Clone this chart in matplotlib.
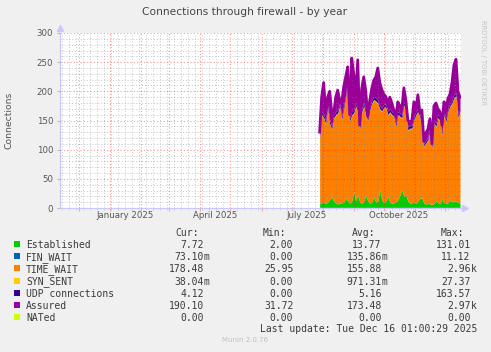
import matplotlib
matplotlib.use("Agg")
import matplotlib.pyplot as plt
import matplotlib.dates as mdates
from matplotlib.patches import Rectangle
import pandas as pd
import numpy as np

# samples every 2 days, end of July to mid December 2025
dates = pd.date_range("2025-07-29", "2025-12-16", freq="2D")

established = [8, 9, 10, 8, 10, 15, 19, 12, 8, 7,
               8, 9, 10, 17, 12, 8, 12, 28, 12, 22,
               10, 8, 12, 22, 12, 8, 10, 20, 10, 12,
               31, 14, 9, 12, 20, 10, 8, 9, 10, 14,
               22, 31, 20, 22, 12, 8, 9, 10, 8, 12,
               17, 17, 8, 7, 8, 7, 6, 8, 12, 9,
               7, 15, 10, 8, 9, 14, 10, 12, 12, 10,
               8]
fin_wait = [0.1, 0.1, 0.2, 0.1, 0.1, 0.2, 0.1, 0.1, 0.1, 0.2,
            0.1, 0.1, 0.1, 0.2, 0.1, 0.1, 0.1, 0.3, 0.1, 0.2,
            0.1, 0.1, 0.1, 0.2, 0.1, 0.1, 0.1, 0.2, 0.1, 0.1,
            0.3, 0.1, 0.1, 0.1, 0.2, 0.1, 0.1, 0.1, 0.1, 0.1,
            0.2, 0.3, 0.2, 0.2, 0.1, 0.1, 0.1, 0.1, 0.1, 0.1,
            0.2, 0.2, 0.1, 0.1, 0.1, 0.1, 0.1, 0.1, 0.1, 0.1,
            0.1, 0.2, 0.1, 0.1, 0.1, 0.1, 0.1, 0.1, 0.1, 0.1,
            0.1]
time_wait = [111, 150, 144, 136, 159, 129, 115, 142, 151, 155,
             166, 142, 159, 172, 204, 140, 147, 134, 162, 142,
             124, 156, 162, 137, 137, 160, 169, 165, 172, 167,
             138, 151, 163, 160, 139, 154, 151, 147, 129, 145,
             134, 123, 156, 143, 121, 128, 127, 141, 151, 153,
             137, 122, 97, 104, 108, 127, 96, 137, 127, 145,
             142, 110, 149, 139, 156, 160, 169, 176, 179, 144,
             157]
syn_sent = [1.0, 1.1, 0.9, 1.0, 1.2, 0.9, 1.0, 1.0, 0.8, 1.0,
            1.1, 1.0, 0.9, 1.2, 1.4, 1.0, 1.0, 0.9, 1.1, 1.0,
            0.8, 1.0, 1.1, 1.0, 0.9, 1.0, 1.1, 1.0, 1.2, 1.0,
            0.9, 1.0, 1.0, 1.1, 0.9, 1.0, 1.0, 0.9, 0.8, 1.0,
            0.9, 0.8, 1.0, 0.9, 0.8, 0.8, 0.9, 0.9, 1.0, 1.0,
            0.9, 0.8, 0.7, 0.7, 0.8, 0.9, 0.7, 0.9, 0.9, 1.0,
            0.9, 0.8, 1.0, 0.9, 1.0, 1.0, 1.1, 1.2, 1.2, 0.9,
            1.0]
udp = [5, 5, 6, 5, 5, 6, 5, 5, 5, 5,
       5, 5, 6, 5, 6, 5, 5, 5, 5, 6,
       5, 5, 5, 6, 5, 5, 5, 5, 6, 5,
       5, 5, 5, 5, 6, 5, 5, 5, 5, 5,
       6, 5, 5, 5, 5, 5, 5, 5, 5, 5,
       5, 5, 4, 4, 5, 5, 4, 5, 5, 5,
       5, 5, 5, 5, 5, 5, 5, 6, 6, 5,
       4]
assured = [130, 190, 215, 165, 190, 200, 165, 162, 190, 202,
           185, 180, 208, 225, 242, 160, 257, 230, 195, 254,
           142, 205, 225, 200, 157, 185, 205, 219, 225, 240,
           215, 203, 195, 191, 178, 190, 180, 168, 157, 182,
           175, 170, 206, 185, 150, 148, 150, 182, 170, 194,
           163, 168, 114, 129, 135, 153, 110, 175, 180, 170,
           165, 142, 182, 168, 188, 195, 215, 245, 255, 200,
           190]
nated = [0, 0, 0, 0, 0, 0, 0, 0, 0, 0,
         0, 0, 0, 0, 0, 0, 0, 0, 0, 0,
         0, 0, 0, 0, 0, 0, 0, 0, 0, 0,
         0, 0, 0, 0, 0, 0, 0, 0, 0, 0,
         0, 0, 0, 0, 0, 0, 0, 0, 0, 0,
         0, 0, 0, 0, 0, 0, 0, 0, 0, 0,
         0, 0, 0, 0, 0, 0, 0, 0, 0, 0,
         0]

names = ["Established", "FIN_WAIT", "TIME_WAIT", "SYN_SENT",
         "UDP connections", "Assured", "NATed"]
colors = ["#00cc00", "#0066b3", "#ff8000", "#ffcc00",
          "#330099", "#990099", "#ccff00"]
cur_vals = ["7.72", "73.10m", "178.48", "38.04m", "4.12", "190.10", "0.00"]
min_vals = ["2.00", "0.00", "25.95", "0.00", "0.00", "31.72", "0.00"]
avg_vals = ["13.77", "135.86m", "155.88", "971.31m", "5.16", "173.48", "0.00"]
max_vals = ["131.01", "11.12", "2.96k", "27.37", "163.57", "2.97k", "0.00"]

W, H = 491, 352
fig = plt.figure(figsize=(W / 100, H / 100), dpi=100, facecolor="#f0f0f0")
ax = fig.add_axes([60 / W, 1 - 208 / H, 401 / W, 175 / H])
ax.set_facecolor("white")

# stacked areas
stack = [established, fin_wait, time_wait, syn_sent, udp]
base = np.zeros(len(dates))
for vals, c in zip(stack, colors[:5]):
    top = base + np.array(vals, dtype=float)
    ax.fill_between(dates, base, top, color=c, lw=0, zorder=2)
    base = top
ax.fill_between(dates, base, assured, where=np.array(assured) >= base,
                color="#990099", lw=0, zorder=2)
ax.plot(dates, assured, color="#990099", lw=2, zorder=3)
ax.plot(dates, nated, color="#ccff00", lw=1, zorder=3)

ax.set_xlim(pd.Timestamp("2024-11-12"), pd.Timestamp("2025-12-17"))
ax.set_ylim(0, 300)

ax.xaxis.set_major_locator(mdates.MonthLocator())
ax.xaxis.set_minor_locator(mdates.WeekdayLocator(byweekday=mdates.TH))
ax.xaxis.set_major_formatter(plt.NullFormatter())
ax.set_yticks(range(0, 301, 50))
ax.set_yticks(range(0, 301, 10), minor=True)

ax.grid(which="minor", color="#808080", alpha=0.45, ls=(0, (1, 2)), lw=0.7, zorder=4)
ax.grid(which="major", color="#ff0000", alpha=0.4, ls=(0, (1, 2)), lw=0.8, zorder=4)
ax.set_axisbelow(False)

for s in ["top", "right"]:
    ax.spines[s].set_visible(False)
for s in ["left", "bottom"]:
    ax.spines[s].set_color("#c8c8ff")
    ax.spines[s].set_linewidth(0.8)
ax.plot([0], [1.03], marker="^", color="#c8c8ff", ms=4, transform=ax.transAxes, clip_on=False)
ax.plot([1.01], [0], marker=">", color="#c8c8ff", ms=4, transform=ax.transAxes, clip_on=False)

ax.tick_params(axis="y", which="major", length=2, color="#bbbbbb", labelsize=6.2,
               labelcolor="#555555", pad=3)
ax.tick_params(axis="y", which="minor", length=0)
ax.tick_params(axis="x", which="major", length=2.5, color="#f4a8a8")
ax.tick_params(axis="x", which="minor", length=1.5, color="#cccccc")

# month labels sit mid-month like rrdtool
for d, lab in [("2025-01-16", "January 2025"), ("2025-04-16", "April 2025"),
               ("2025-07-16", "July 2025"), ("2025-10-16", "October 2025")]:
    ax.text(pd.Timestamp(d), -0.042, lab, transform=ax.get_xaxis_transform(),
            ha="center", va="center", fontsize=6.2, color="#555555")

fig.text(245 / W, 1 - 12 / H, "Connections through firewall - by year",
         ha="center", va="center", fontsize=7.7, color="#444444")
fig.text(9 / W, 1 - 120 / H, "Connections", rotation=90, ha="center", va="center",
         fontsize=6.7, color="#555555")
fig.text(483 / W, 1 - 63 / H, "RRDTOOL / TOBI OETIKER", rotation=270,
         ha="center", va="center", fontsize=4.8, color="#c4c4c4")

# legend table
mono = "DejaVu Sans Mono"
tc = "#3a3a3a"
for hx, h in zip([175, 263, 352, 441], ["Cur:", "Min:", "Avg:", "Max:"]):
    fig.text(hx / W, 1 - 232.3 / H, h, ha="left", va="center_baseline",
             family=mono, fontsize=7, color=tc)

col_end = [204, 293.3, 381.7, 470.7]
for i, (n, c) in enumerate(zip(names, colors)):
    y = 244.3 + i * 12.07
    fig.add_artist(Rectangle((14 / W, 1 - (y + 3) / H), 6 / W, 6 / H,
                             transform=fig.transFigure, color=c, lw=0))
    fig.text(26 / W, 1 - y / H, n, ha="left", va="center_baseline",
             family=mono, fontsize=7, color=tc)
    for xe, vals in zip(col_end, [cur_vals, min_vals, avg_vals, max_vals]):
        s = vals[i]
        suf = ""
        if s[-1].isalpha():
            s, suf = s[:-1], s[-1]
        fig.text(xe / W, 1 - y / H, s, ha="right", va="center_baseline",
                 family=mono, fontsize=7, color=tc)
        if suf:
            fig.text(xe / W, 1 - y / H, suf, ha="left", va="center_baseline",
                     family=mono, fontsize=7, color=tc)

fig.text(477 / W, 1 - 328.3 / H, "Last update: Tue Dec 16 01:00:29 2025",
         ha="right", va="center_baseline", family=mono, fontsize=7, color=tc)
fig.text(245 / W, 1 - 340 / H, "Munin 2.0.76", ha="center", va="center",
         fontsize=5, color="#c0c0c0")

fig.savefig("out.png", dpi=100, facecolor=fig.get_facecolor())
